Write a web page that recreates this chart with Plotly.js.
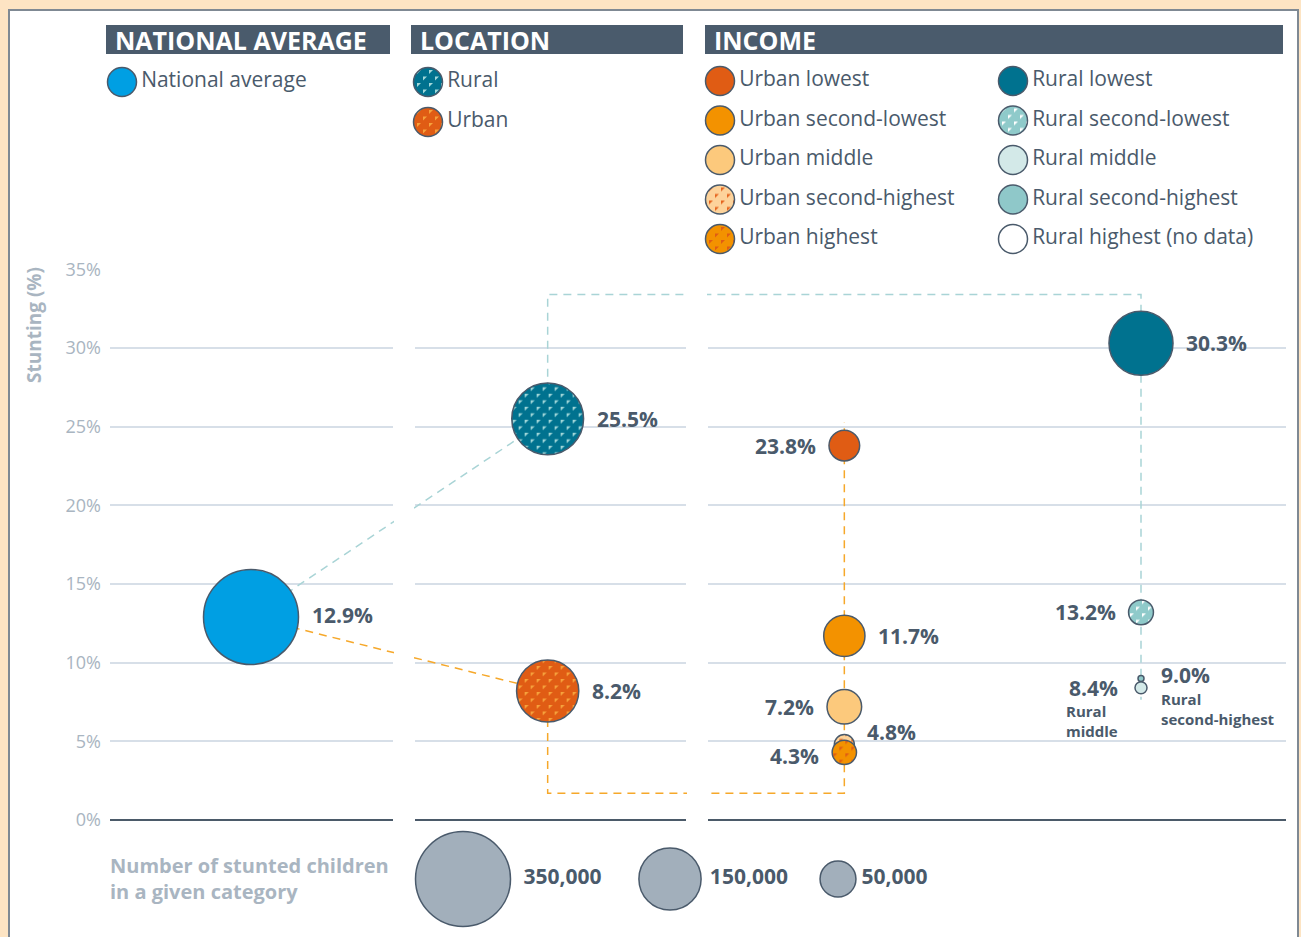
<!DOCTYPE html>
<html>
<head>
<meta charset="utf-8">
<script src="https://cdn.plot.ly/plotly-3.0.1.min.js"></script>
<style>
  html, body { margin: 0; padding: 0; background: #fde4c3; }
  #chart { width: 1301px; height: 937px; }
</style>
</head>
<body>
<div id="chart"></div>
<script>
// ---------------- DATA ----------------
const yTickValues = [0, 5, 10, 15, 20, 25, 30, 35];
const yTickLabels = ['0%', '5%', '10%', '15%', '20%', '25%', '30%', '35%'];
const panelTitles = ['NATIONAL AVERAGE', 'LOCATION', 'INCOME'];
const columnCategories = ['National', 'Location', 'Urban income', 'Rural income'];

const nationalNames = ['National average'];
const nationalStunting = [12.9];
const nationalCount = [350000];

const locationNames = ['Rural', 'Urban'];
const locationStunting = [25.5, 8.2];
const locationCount = [200000, 150000];

const urbanIncomeNames = ['Urban lowest', 'Urban second-lowest', 'Urban middle', 'Urban second-highest', 'Urban highest'];
const urbanIncomeStunting = [23.8, 11.7, 7.2, 4.8, 4.3];
const urbanIncomeCount = [36500, 66000, 46500, 15500, 23000];

const ruralIncomeNames = ['Rural lowest', 'Rural second-lowest', 'Rural middle', 'Rural second-highest', 'Rural highest (no data)'];
const ruralIncomeStunting = [30.3, 13.2, 8.4, 9.0, null];
const ruralIncomeCount = [159000, 24000, 5600, 1400, null];

const sizeLegendCounts = [350000, 150000, 50000];
const sizeLegendLabels = ['350,000', '150,000', '50,000'];
const sizeLegendTitle = 'Number of stunted children<br>in a given category';
const axisTitle = 'Stunting (%)';

// ---------------- STYLE ----------------
const W = 1301, H = 937;
const px = v => v / W;
const py = v => 1 - v / H;
const FONT = '"Open Sans", Lato, sans-serif';
const INK = '#4a5a6b';
const MUTED = '#a9b5c1';
const GRID = '#d7dfe8';
const HEADER = '#4a5b6c';
const OUTLINE = '#4a5a6b';
const TEAL_LINE = '#a9d4d6';
const ORANGE_LINE = '#f6a82a';

const BUBBLE_MAX_PX = 95;
const sizeref = 2 * sizeLegendCounts[0] / (BUBBLE_MAX_PX * BUBBLE_MAX_PX);
const radius = c => Math.sqrt(c / (2 * sizeref));

const Y_RANGE = [-0.2, 35];
const Y_DOMAIN = [py(823.15), py(269.33)];
const panelPx = [[110, 393], [415, 686], [708, 1286]];
const panelDomains = panelPx.map(p => [px(p[0]), px(p[1])]);
const headerPx = [[106, 390], [411, 683], [705, 1283]];
// category column centres (px) : 251, 548, 845, 1141
const CAT_FIRST = 251, CAT_STEP = (1141 - 251) / 3;
const catRange = [-CAT_FIRST / CAT_STEP, (W - CAT_FIRST) / CAT_STEP];
const BRACKET_TOP = 33.4, BRACKET_BOTTOM = 1.7;

const fills = {
  'National average': { c: '#009fe3' },
  'Rural': { c: '#00728f', p: 'patRural' },
  'Urban': { c: '#e05c14', p: 'patUrban' },
  'Urban lowest': { c: '#e05c14' },
  'Urban second-lowest': { c: '#f39200' },
  'Urban middle': { c: '#fcc97c' },
  'Urban second-highest': { c: '#fdd39b', p: 'patUSH' },
  'Urban highest': { c: '#f39200', p: 'patUH' },
  'Rural lowest': { c: '#00728f' },
  'Rural second-lowest': { c: '#8fcaca', p: 'patRSL' },
  'Rural middle': { c: '#d3e9e8' },
  'Rural second-highest': { c: '#8fc8c9' },
  'Rural highest (no data)': { c: '#ffffff' }
};
const patternDefs = {
  patRural: { bg: '#00728f', fg: '#a3d8da' },
  patUrban: { bg: '#e05c14', fg: '#f6a23c' },
  patUSH: { bg: '#fdd39b', fg: '#e5641e' },
  patUH: { bg: '#f39200', fg: '#e05c14' },
  patRSL: { bg: '#8fcaca', fg: '#ffffff' }
};
const LABEL_GAP = 11;
const labelStyle = {
  'National average': { side: 1, dy: 2 },
  'Urban lowest': { side: -1 },
  'Urban middle': { side: -1 },
  'Urban second-highest': { side: 1, dy: 12 },
  'Urban highest': { side: -1, dy: -4 },
  'Rural second-lowest': { side: -1 },
  'Rural middle': { side: -1, gap: 15, sub: 'Rural<br>middle', subDy: -33, subX: 0 },
  'Rural second-highest': { side: 1, gap: 15, dy: 3, sub: 'Rural<br>second-highest', subDy: -31, subX: 0 }
};

// ---------------- TRACES ----------------
const data = [];
const patternsByTrace = {};

// empty traces so each panel subplot draws its gridlines
['x', 'x2', 'x3'].forEach(ax => data.push({ type: 'scatter', x: [], y: [], xaxis: ax, yaxis: 'y', showlegend: false, hoverinfo: 'skip' }));

const dashed = (name, xs, ys, color) => ({
  type: 'scatter', mode: 'lines', name, x: xs, y: ys, xaxis: 'x4', yaxis: 'y2',
  line: { color, width: 1.5, dash: '8px,6px' }, showlegend: false, hoverinfo: 'skip', cliponaxis: false
});
const ruralValid = ruralIncomeStunting.filter(v => v != null);
data.push(dashed('c1', [columnCategories[0], columnCategories[1]], [nationalStunting[0], locationStunting[0]], TEAL_LINE));
data.push(dashed('c2', [columnCategories[0], columnCategories[1]], [nationalStunting[0], locationStunting[1]], ORANGE_LINE));
data.push(dashed('c3', [columnCategories[1], columnCategories[1], columnCategories[3], columnCategories[3]],
  [locationStunting[0], BRACKET_TOP, BRACKET_TOP, Math.min(...ruralValid) - 0.75], TEAL_LINE));
data.push(dashed('c4', [columnCategories[1], columnCategories[1], columnCategories[2], columnCategories[2]],
  [locationStunting[1], BRACKET_BOTTOM, BRACKET_BOTTOM, Math.max(...urbanIncomeStunting) + 1.5], ORANGE_LINE));

function bubbleTrace(name, names, values, counts, cat) {
  patternsByTrace[name] = names.map(n => fills[n].p || null);
  return {
    type: 'scatter', mode: 'markers', name, xaxis: 'x4', yaxis: 'y2',
    x: names.map(() => cat), y: values,
    marker: { size: counts, sizemode: 'area', sizeref, color: names.map(n => fills[n].c), line: { color: OUTLINE, width: 1.5 }, opacity: 1 },
    showlegend: false, hoverinfo: 'skip', cliponaxis: false
  };
}
data.push(bubbleTrace('national', nationalNames, nationalStunting, nationalCount, columnCategories[0]));
data.push(bubbleTrace('location', locationNames, locationStunting, locationCount, columnCategories[1]));
data.push(bubbleTrace('urbanIncome', urbanIncomeNames, urbanIncomeStunting, urbanIncomeCount, columnCategories[2]));
data.push(bubbleTrace('ruralIncome', ruralIncomeNames, ruralIncomeStunting, ruralIncomeCount, columnCategories[3]));

// key swatches (pixel overlay axes)
const legendGroups = [
  { names: nationalNames, x: 122, y: 82, step: 40 },
  { names: locationNames, x: 428, y: 82, step: 40 },
  { names: urbanIncomeNames, x: 720, y: 81, step: 39.5 },
  { names: ruralIncomeNames, x: 1013, y: 81, step: 39.5 }
];
legendGroups.forEach((g, gi) => {
  const nm = 'key' + gi;
  patternsByTrace[nm] = g.names.map(n => fills[n].p || null);
  data.push({
    type: 'scatter', mode: 'markers+text', name: nm, xaxis: 'x5', yaxis: 'y3',
    x: g.names.map(() => g.x), y: g.names.map((n, i) => g.y + i * g.step),
    text: g.names, textposition: 'middle right',
    textfont: { family: FONT, size: 21, color: INK },
    marker: { size: 29, color: g.names.map(n => fills[n].c), line: { color: OUTLINE, width: 1.5 }, opacity: 1 },
    showlegend: false, hoverinfo: 'skip', cliponaxis: false
  });
});

// size key
const sizeKeyX = [463, 670, 838];
data.push({
  type: 'scatter', mode: 'markers+text', name: 'sizeKey', xaxis: 'x5', yaxis: 'y3',
  x: sizeKeyX, y: sizeLegendCounts.map(() => 879),
  text: sizeLegendLabels, textposition: 'middle right',
  textfont: { family: FONT, size: 21, color: INK, weight: 700 },
  marker: { size: sizeLegendCounts, sizemode: 'area', sizeref, color: '#a2afbb', opacity: 1, line: { color: OUTLINE, width: 1.5 } },
  showlegend: false, hoverinfo: 'skip', cliponaxis: false
});

// ---------------- ANNOTATIONS ----------------
const annotations = [];
panelTitles.forEach((t, i) => annotations.push({
  xref: 'paper', yref: 'paper', x: px(headerPx[i][0] + 7), y: py(40), xanchor: 'left', yanchor: 'middle',
  text: t, showarrow: false, font: { family: FONT, size: 25, color: '#ffffff', weight: 700 }
}));
annotations.push({
  xref: 'paper', yref: 'paper', x: px(34), y: py(325), xanchor: 'center', yanchor: 'middle', textangle: -90,
  text: axisTitle, showarrow: false, font: { family: FONT, size: 19, color: MUTED, weight: 700 }
});
annotations.push({
  xref: 'paper', yref: 'paper', x: px(108), y: py(878), xanchor: 'left', yanchor: 'middle', align: 'left',
  text: sizeLegendTitle, showarrow: false, font: { family: FONT, size: 20, color: MUTED, weight: 700 }
});
function addLabels(names, values, counts, cat) {
  names.forEach((n, i) => {
    if (values[i] == null) return;
    const st = labelStyle[n] || { side: 1 };
    const gap = st.gap != null ? st.gap : LABEL_GAP;
    const shift = st.side * (radius(counts[i]) + gap);
    annotations.push({
      xref: 'x4', yref: 'y2', x: cat, y: values[i], text: values[i].toFixed(1) + '%', showarrow: false,
      xanchor: st.side > 0 ? 'left' : 'right', yanchor: 'middle', xshift: shift, yshift: st.dy || 0,
      font: { family: FONT, size: 21, color: INK, weight: 700 }
    });
    if (st.sub) annotations.push({
      xref: 'x4', yref: 'y2', x: cat, y: values[i], text: st.sub, showarrow: false, align: 'left',
      xanchor: st.side > 0 ? 'left' : 'right', yanchor: 'middle',
      xshift: shift + (st.subX || 0), yshift: st.subDy,
      font: { family: FONT, size: 15, color: INK, weight: 700 }
    });
  });
}
addLabels(nationalNames, nationalStunting, nationalCount, columnCategories[0]);
addLabels(locationNames, locationStunting, locationCount, columnCategories[1]);
addLabels(urbanIncomeNames, urbanIncomeStunting, urbanIncomeCount, columnCategories[2]);
addLabels(ruralIncomeNames, ruralIncomeStunting, ruralIncomeCount, columnCategories[3]);

// ---------------- SHAPES ----------------
const shapes = [
  { type: 'rect', layer: 'below', xref: 'paper', yref: 'paper', x0: px(9), x1: px(1298), y0: -0.05, y1: py(10),
    fillcolor: '#ffffff', line: { color: '#7f8993', width: 2 } }
];
headerPx.forEach(h => shapes.push({ type: 'rect', layer: 'below', xref: 'paper', yref: 'paper',
  x0: px(h[0]), x1: px(h[1]), y0: py(54), y1: py(25), fillcolor: HEADER, line: { width: 0 } }));
// white gaps between panels
for (let i = 0; i < panelPx.length - 1; i++) {
  shapes.push({ type: 'rect', layer: 'above', xref: 'paper', yref: 'paper',
    x0: px(panelPx[i][1] + 1), x1: px(panelPx[i + 1][0] - 1), y0: py(830), y1: py(262), fillcolor: '#ffffff', line: { width: 0 } });
}

// ---------------- LAYOUT ----------------
const hiddenX = (d) => ({ domain: d, range: [0, 1], visible: false, anchor: 'y', fixedrange: true });
const layout = {
  width: W, height: H, margin: { l: 0, r: 0, t: 0, b: 0 },
  paper_bgcolor: '#fde4c3', plot_bgcolor: 'rgba(0,0,0,0)',
  font: { family: FONT, color: INK },
  showlegend: false,
  xaxis: hiddenX(panelDomains[0]),
  xaxis2: hiddenX(panelDomains[1]),
  xaxis3: hiddenX(panelDomains[2]),
  yaxis: {
    domain: Y_DOMAIN, range: Y_RANGE, anchor: 'x', tickvals: yTickValues.slice(1, -1),
    showticklabels: false, ticks: '', showgrid: true, gridcolor: GRID, gridwidth: 2,
    zeroline: true, zerolinecolor: '#4b5a69', zerolinewidth: 2, showline: false, fixedrange: true
  },
  yaxis2: {
    domain: Y_DOMAIN, range: Y_RANGE, anchor: 'free', position: px(110), side: 'left',
    tickvals: yTickValues, ticktext: yTickLabels, ticks: '', ticklabelstandoff: 9,
    tickfont: { family: FONT, size: 18, color: MUTED },
    showgrid: false, zeroline: false, showline: false, fixedrange: true
  },
  xaxis4: {
    domain: [0, 1], type: 'category', categoryorder: 'array', categoryarray: columnCategories,
    range: catRange, anchor: 'y2', visible: false, fixedrange: true
  },
  xaxis5: { domain: [0, 1], range: [0, W], anchor: 'y3', visible: false, fixedrange: true },
  yaxis3: { domain: [0, 1], range: [H, 0], anchor: 'x5', visible: false, fixedrange: true },
  annotations, shapes
};

const gd = document.getElementById('chart');
Plotly.newPlot(gd, data, layout, { staticPlot: true, displayModeBar: false }).then(() => {
  const NS = 'http://www.w3.org/2000/svg';
  const svg = gd.querySelector('svg.main-svg');
  let defs = svg.querySelector('defs');
  if (!defs) { defs = document.createElementNS(NS, 'defs'); svg.insertBefore(defs, svg.firstChild); }
  Object.entries(patternDefs).forEach(([id, p]) => {
    const pat = document.createElementNS(NS, 'pattern');
    pat.setAttribute('id', id);
    pat.setAttribute('patternUnits', 'userSpaceOnUse');
    pat.setAttribute('width', '12');
    pat.setAttribute('height', '13');
    const r = document.createElementNS(NS, 'rect');
    r.setAttribute('width', '12'); r.setAttribute('height', '13'); r.setAttribute('fill', p.bg);
    const t = document.createElementNS(NS, 'path');
    t.setAttribute('d', 'M1,1 h4 l-4,4 z M7,7.5 h4 l-4,4 z');
    t.setAttribute('fill', p.fg);
    pat.appendChild(r); pat.appendChild(t);
    defs.appendChild(pat);
  });
  gd.querySelectorAll('.scatterlayer .trace').forEach(g => {
    const cd = g.__data__;
    if (!cd || !cd[0] || !cd[0].trace) return;
    const pats = patternsByTrace[cd[0].trace.name];
    if (!pats) return;
    g.querySelectorAll('path.point').forEach((p, k) => {
      const d = p.__data__;
      const idx = d && d.i != null ? d.i : k;
      if (pats[idx]) p.style.fill = 'url(#' + pats[idx] + ')';
    });
  });
});
</script>
</body>
</html>
